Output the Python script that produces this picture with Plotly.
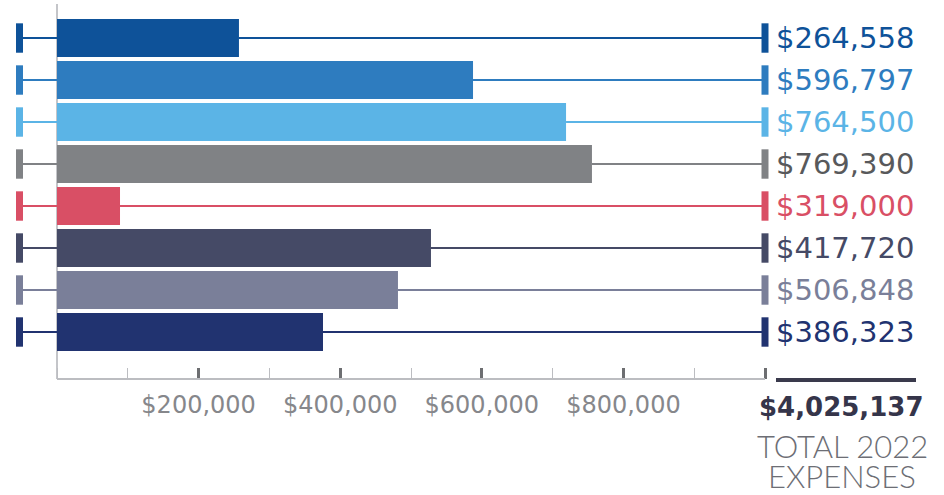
import plotly.graph_objects as go

# ---------------- data ----------------
categories = ["Expense 1", "Expense 2", "Expense 3", "Expense 4",
              "Expense 5", "Expense 6", "Expense 7", "Expense 8"]
bar_values = [257000, 587600, 719000, 755600, 89000, 528200, 481600, 375700]
label_values = ["$264,558", "$596,797", "$764,500", "$769,390",
                "$319,000", "$417,720", "$506,848", "$386,323"]
bar_colors = ["#0e5299", "#2e7cbf", "#5bb4e6", "#808285",
              "#d94f65", "#454a66", "#7a7f99", "#213370"]
label_colors = ["#0e5299", "#2e7cbf", "#5bb4e6", "#58595b",
                "#d94f65", "#454a66", "#7a7f99", "#213370"]
tick_values = [200000, 400000, 600000, 800000, 1000000]
tick_labels = ["$200,000", "$400,000", "$600,000", "$800,000", ""]
total_value = "$4,025,137"
total_caption = ["TOTAL 2022", "EXPENSES"]

# ---------------- layout constants ----------------
W, H = 944, 495
ML, MR, MT, MB = 15, 170, 4, 116
AXIS_MAX = 1_000_000
LEFT_CAP = -53000
X_RANGE = [-59322, 1_012_712]
Y_RANGE = [8.119, -0.81]

plot_w = W - ML - MR
plot_h = H - MT - MB


def px_x(p):
    return (p - ML) / plot_w


def px_y(p):
    return (H - MB - p) / plot_h


fig = go.Figure()

# connector lines (split so they pass "under" the bars)
for cat, v, col in zip(categories, bar_values, bar_colors):
    fig.add_trace(go.Scatter(
        x=[LEFT_CAP, 0, None, v, AXIS_MAX], y=[cat, cat, None, cat, cat],
        mode="lines", line=dict(color=col, width=2), hoverinfo="skip",
        showlegend=False, cliponaxis=False))
    fig.add_trace(go.Scatter(
        x=[LEFT_CAP, AXIS_MAX], y=[cat, cat], mode="markers",
        marker=dict(symbol="line-ns", size=21, color=col,
                    line=dict(color=col, width=7)),
        hoverinfo="skip", showlegend=False, cliponaxis=False))

fig.add_trace(go.Bar(
    x=bar_values, y=categories, orientation="h",
    marker=dict(color=bar_colors, line=dict(width=0)),
    showlegend=False, hoverinfo="skip"))

# value labels
for cat, txt, col in zip(categories, label_values, label_colors):
    fig.add_annotation(
        x=AXIS_MAX, y=cat, xref="x", yref="y", text=txt, showarrow=False,
        xanchor="left", yanchor="middle", xshift=9, yshift=0,
        font=dict(family="DejaVu Sans", size=29, color=col))

# x-axis baseline
fig.add_shape(type="line", xref="x", yref="paper", x0=0, x1=AXIS_MAX,
              y0=0, y1=0, line=dict(color="#bcbdc1", width=2))

# total block
fig.add_shape(type="line", xref="paper", yref="paper",
              x0=px_x(776), x1=px_x(916), y0=px_y(380), y1=px_y(380),
              line=dict(color="#3a3a4c", width=4))
fig.add_annotation(x=px_x(841), y=px_y(407), xref="paper", yref="paper",
                   text=f"<b>{total_value}</b>", showarrow=False,
                   xanchor="center", yanchor="middle",
                   font=dict(family="DejaVu Sans", size=26, color="#35354a"))
fig.add_annotation(x=px_x(842), y=px_y(446), xref="paper", yref="paper",
                   text=total_caption[0], showarrow=False,
                   xanchor="center", yanchor="middle",
                   font=dict(family="Lato", size=31, color="#6d6e75", weight=300))
fig.add_annotation(x=px_x(842), y=px_y(476), xref="paper", yref="paper",
                   text=total_caption[1], showarrow=False,
                   xanchor="center", yanchor="middle",
                   font=dict(family="Lato", size=31, color="#6d6e75", weight=300))

fig.update_layout(
    width=W, height=H,
    margin=dict(l=ML, r=MR, t=MT, b=MB),
    paper_bgcolor="white", plot_bgcolor="white",
    bargap=0.095,
    xaxis=dict(
        range=X_RANGE, showgrid=False, showline=False,
        zeroline=True, zerolinecolor="#c4c5c9", zerolinewidth=2,
        tickmode="array", tickvals=tick_values, ticktext=tick_labels,
        ticks="inside", ticklen=11, tickwidth=3, tickcolor="#6d6e71",
        ticklabelstandoff=9,
        tickfont=dict(family="DejaVu Sans", size=24, color="#86878b"),
        minor=dict(ticks="inside", ticklen=11, tickwidth=1,
                   tickcolor="#bcbdc1", tick0=0, dtick=100000),
    ),
    yaxis=dict(
        type="category", categoryorder="array", categoryarray=categories,
        range=Y_RANGE, showgrid=False, showline=False, zeroline=False,
        showticklabels=False, ticks="",
    ),
)

fig.write_html("out.html", config={"displayModeBar": False},
               post_script="document.body.style.margin='0px';document.body.style.overflow='hidden';")
